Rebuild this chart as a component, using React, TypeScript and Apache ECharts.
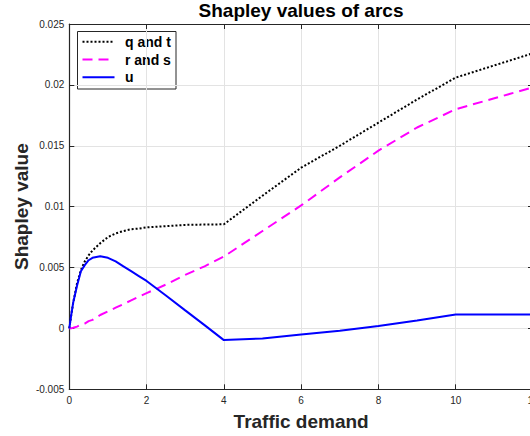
import React, { useEffect, useRef } from "react";
import * as echarts from "echarts";

const demand = [0, 0.05, 0.1, 0.15, 0.2, 0.3, 0.4, 0.5, 0.6, 0.8, 1.0, 1.2, 1.4, 1.6, 1.8, 2, 2.5, 3, 3.5, 4, 5, 6, 7, 8, 9, 10, 11, 12];
const qAndT = [0, 0.0011, 0.0021, 0.0029, 0.0037, 0.0048, 0.0055, 0.0060, 0.0064, 0.0070, 0.0075, 0.0078, 0.0080, 0.00815, 0.0082, 0.0083, 0.0084, 0.0085, 0.00853, 0.00855, 0.0109, 0.0132, 0.0150, 0.0169, 0.0188, 0.0206, 0.0216, 0.0226];
const rAndS = [0, 0.00002, 0.00005, 0.0001, 0.00015, 0.0003, 0.0004, 0.0006, 0.0007, 0.0011, 0.0014, 0.0017, 0.0020, 0.0023, 0.0026, 0.0029, 0.0036, 0.0044, 0.0051, 0.0059, 0.0080, 0.0101, 0.0124, 0.0146, 0.0165, 0.0180, 0.0189, 0.0198];
const u = [0, 0.0011, 0.0021, 0.0028, 0.0035, 0.0047, 0.0052, 0.0056, 0.0058, 0.00593, 0.0058, 0.0055, 0.0051, 0.0047, 0.0043, 0.0039, 0.0027, 0.00148, 0.00027, -0.00096, -0.00082, -0.0005, -0.0002, 0.0002, 0.00065, 0.00115, 0.00115, 0.00115];
const seriesNames = ["q and t", "r and s", "u"];
const seriesColors = ["#000000", "#ff00ff", "#0000ff"];
const seriesDash: (number[] | null)[] = [[2, 2], [10, 6], null];

const FONT = "'Liberation Sans', Arial, Helvetica, sans-serif";
const AXIS = "#262626";

const pairs = (ys: number[]) => demand.map((x, i) => [x, ys[i]]);

function legendGraphic() {
  const left = 77.5;
  const top = 31.5;
  const rowY = [41.7, 59.5, 77.3];
  const children: any[] = [
    {
      type: "rect",
      shape: { x: left, y: top, width: 98.5, height: 57.5 },
      style: { fill: "#fff", stroke: AXIS, lineWidth: 1 },
    },
  ];
  seriesNames.forEach((name, i) => {
    children.push({
      type: "line",
      shape: { x1: 82.5, y1: rowY[i], x2: 114.5, y2: rowY[i] },
      style: { stroke: seriesColors[i], lineWidth: 2, lineDash: seriesDash[i] || undefined },
    });
    children.push({
      type: "text",
      x: 125,
      y: rowY[i],
      style: {
        text: name,
        font: `bold 14px ${FONT}`,
        fill: "#000",
        textAlign: "left",
        textVerticalAlign: "middle",
      },
    });
  });
  return { type: "group", z: 100, children };
}

export default function App() {
  const ref = useRef<HTMLDivElement>(null);
  useEffect(() => {
    if (!ref.current) return;
    const chart = echarts.init(ref.current, undefined, { renderer: "svg" });
    const tickFmt = (v: number) => String(parseFloat(v.toFixed(4)));
    chart.setOption({
      animation: false,
      backgroundColor: "#fff",
      textStyle: { fontFamily: FONT },
      grid: { left: 69.3, right: -3, top: 24, bottom: 46.7, containLabel: false, outerBoundsMode: "none" },
      graphic: [
        {
          type: "text",
          x: 301,
          y: 1,
          style: {
            text: "Shapley values of arcs",
            font: `bold 19px ${FONT}`,
            fill: "#000",
            textAlign: "center",
            textVerticalAlign: "top",
          },
        },
        legendGraphic(),
      ],
      xAxis: [
        {
          type: "value",
          min: 0,
          max: 12,
          interval: 2,
          name: "Traffic demand",
          nameLocation: "middle",
          nameGap: 23,
          nameTextStyle: { fontFamily: FONT, fontWeight: "bold", fontSize: 19, color: "#262626" },
          axisLine: { onZero: false, lineStyle: { color: AXIS, width: 1.2 } },
          axisTick: { inside: true, length: 5, lineStyle: { color: AXIS } },
          axisLabel: { fontSize: 10, color: "#262626", margin: 6, fontFamily: FONT },
          splitLine: { show: true, lineStyle: { color: "#e3e3e3", width: 1 } },
        },
        {
          type: "value",
          position: "top",
          min: 0,
          max: 12,
          interval: 2,
          axisLine: { onZero: false, lineStyle: { color: AXIS, width: 1.2 } },
          axisTick: { inside: true, length: 5, lineStyle: { color: AXIS } },
          axisLabel: { show: false },
          splitLine: { show: false },
        },
      ],
      yAxis: [
        {
          type: "value",
          min: -0.005,
          max: 0.025,
          interval: 0.005,
          name: "Shapley value",
          nameLocation: "middle",
          nameGap: 38,
          nameMoveOverlap: false,
          nameTextStyle: { fontFamily: FONT, fontWeight: "bold", fontSize: 19, color: "#262626" },
          axisLine: { show: true, onZero: false, lineStyle: { color: AXIS, width: 1.2 } },
          axisTick: { show: true, inside: true, length: 5, lineStyle: { color: AXIS } },
          axisLabel: { fontSize: 10, color: "#262626", margin: 5, fontFamily: FONT, formatter: tickFmt },
          splitLine: { show: true, lineStyle: { color: "#e3e3e3", width: 1 } },
        },
        {
          type: "value",
          position: "right",
          min: -0.005,
          max: 0.025,
          interval: 0.005,
          axisLine: { show: true, onZero: false, lineStyle: { color: AXIS, width: 1.2 } },
          axisTick: { show: true, inside: true, length: 5, lineStyle: { color: AXIS } },
          axisLabel: { show: false },
          splitLine: { show: false },
        },
      ],
      series: [qAndT, rAndS, u].map((ys, i) => ({
        name: seriesNames[i],
        type: "line",
        data: pairs(ys),
        symbol: "none",
        lineStyle: { color: seriesColors[i], width: 2, type: seriesDash[i] || "solid" },
        itemStyle: { color: seriesColors[i] },
      })),
    });
    return () => chart.dispose();
  }, []);
  return <div ref={ref} style={{ position: "absolute", left: 0, top: 0, width: 530, height: 436 }} />;
}
